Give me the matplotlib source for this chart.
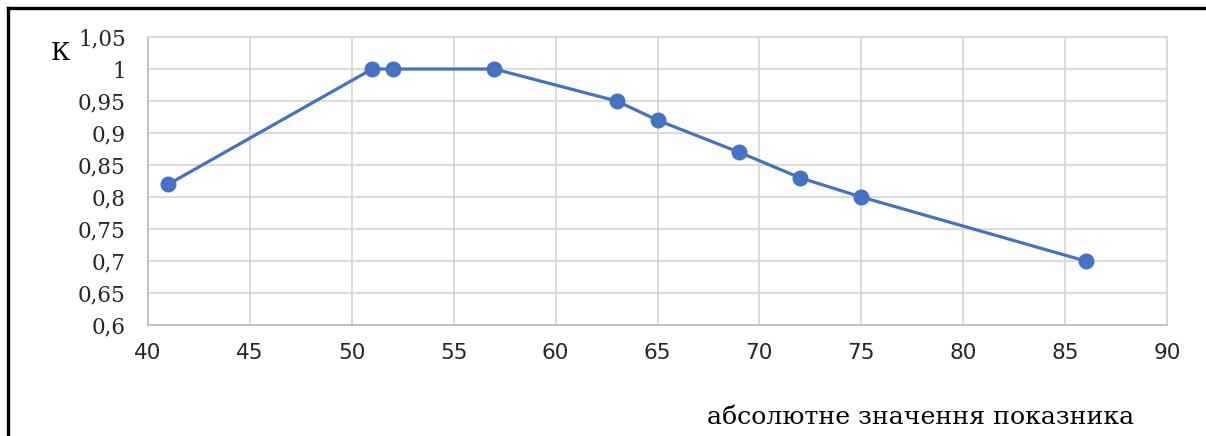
import matplotlib
matplotlib.use("Agg")
import matplotlib.pyplot as plt
from matplotlib.lines import Line2D

# Coefficient K against the absolute value of the indicator
x_values = [41, 51, 52, 57, 63, 65, 69, 72, 75, 86]
k_values = [0.82, 1.00, 1.00, 1.00, 0.95, 0.92, 0.87, 0.83, 0.80, 0.70]

x_ticks = [40, 45, 50, 55, 60, 65, 70, 75, 80, 85, 90]
y_ticks = [0.60, 0.65, 0.70, 0.75, 0.80, 0.85, 0.90, 0.95, 1.00, 1.05]
y_tick_labels = ["0,6", "0,65", "0,7", "0,75", "0,8", "0,85", "0,9", "0,95", "1", "1,05"]

x_label = "абсолютне значення показника"
y_label = "К"

line_color = "#4472C4"
grid_color = "#D9D9D9"

fig = plt.figure(figsize=(12.06, 4.36), dpi=100)
ax = fig.add_axes([0.1227, 0.2546, 0.8450, 0.6605])

ax.plot(x_values, k_values, color=line_color, linewidth=2.3,
        marker="o", markersize=10.5, markerfacecolor=line_color,
        markeredgecolor=line_color, zorder=3)

ax.set_xlim(40, 90)
ax.set_ylim(0.6, 1.05)
ax.set_xticks(x_ticks)
ax.set_yticks(y_ticks)
ax.set_yticklabels(y_tick_labels)

ax.grid(True, color=grid_color, linewidth=1.3)
ax.set_axisbelow(True)
ax.tick_params(length=0)
ax.tick_params(axis="x", pad=13, labelsize=15.5, labelcolor="#262626")
ax.tick_params(axis="y", pad=16, labelsize=15.5, labelcolor="#262626")
for lbl in ax.get_yticklabels():
    lbl.set_family("DejaVu Serif")
for lbl in ax.get_xticklabels():
    lbl.set_family("DejaVu Sans")

for side in ("top", "right"):
    ax.spines[side].set_color(grid_color)
    ax.spines[side].set_linewidth(1.3)
for side in ("left", "bottom"):
    ax.spines[side].set_color("#BFBFBF")
    ax.spines[side].set_linewidth(1.3)

fig.text(60 / 1206, 1 - 54 / 436, y_label, family="DejaVu Serif",
         fontsize=18, ha="center", va="center", color="#000000")
fig.text(921 / 1206, 1 - 417 / 436, x_label, family="DejaVu Serif",
         fontsize=18.2, ha="center", va="center", color="#000000")

# Partial outer frame along the top and left edges
fig.add_artist(Line2D([8 / 1206, 1.0], [1 - 8 / 436, 1 - 8 / 436],
                      transform=fig.transFigure, color="black", linewidth=2.4,
                      solid_capstyle="projecting"))
fig.add_artist(Line2D([8 / 1206, 8 / 1206], [0.0, 1 - 8 / 436],
                      transform=fig.transFigure, color="black", linewidth=2.4,
                      solid_capstyle="projecting"))

fig.savefig("out.png", dpi=100, facecolor="white")
